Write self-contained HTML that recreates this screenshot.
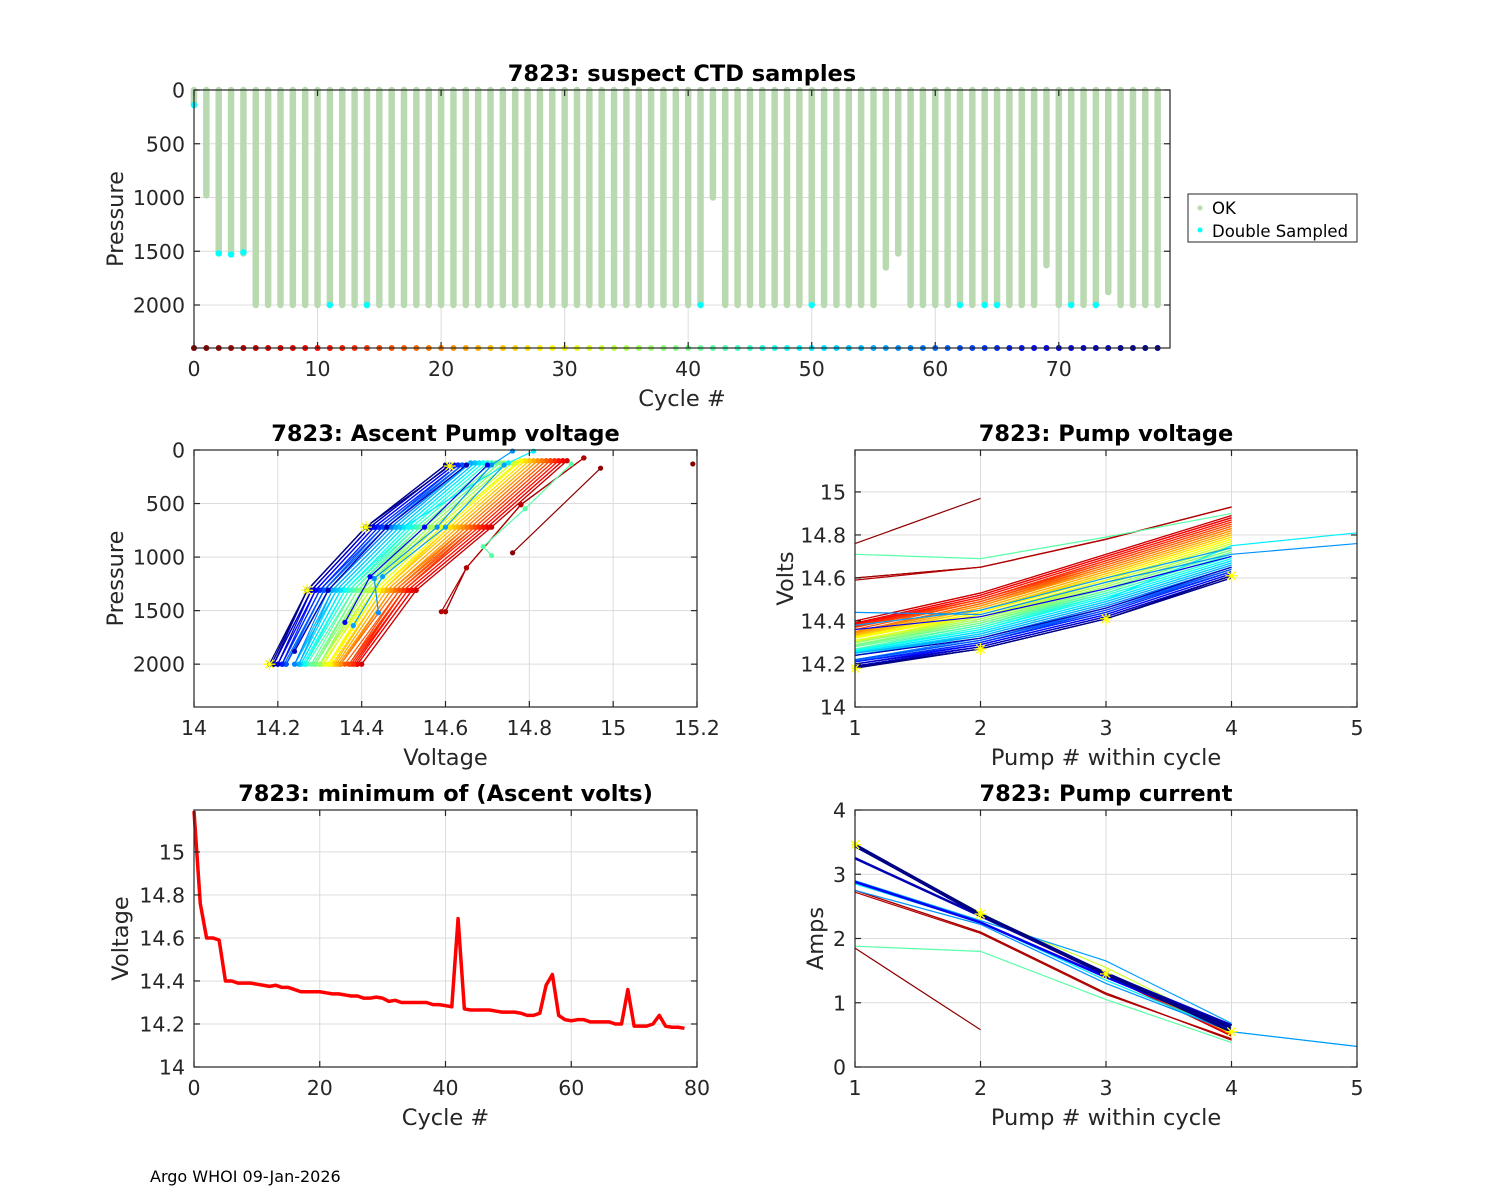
<!DOCTYPE html>
<html><head><meta charset="utf-8"><title>7823 pump diagnostics</title>
<style>
html,body{margin:0;padding:0;background:#fff;}
svg{display:block;font-family:"DejaVu Sans","Liberation Sans",sans-serif;}
</style></head>
<body>
<svg id="fig" width="1500" height="1200" viewBox="0 0 1500 1200" xmlns="http://www.w3.org/2000/svg">
<rect width="1500" height="1200" fill="#fff"/>
<text x="150" y="1182" font-size="16" fill="#000">Argo WHOI 09-Jan-2026</text>
<g>
<rect x="1188" y="194" width="169" height="48" fill="#fff" stroke="#262626" stroke-width="1"/>
<circle cx="1200" cy="208" r="2.5" fill="#b9dab0"/>
<text x="1212" y="214" font-size="16.5" fill="#000">OK</text>
<circle cx="1200" cy="230" r="2.5" fill="#00ffff"/>
<text x="1212" y="237" font-size="16.5" fill="#000">Double Sampled</text>
</g>
</svg>
<script>
// ---------- data ----------
const cycles = [];
for (let c = 0; c <= 78; c++) cycles.push(c);

const profileDepth = [140,980,1520,1520,1520,2000,2000,2000,2000,2000,
 2000,2000,2000,2000,2000,2000,2000,2000,2000,2000,
 2000,2000,2000,2000,2000,2000,2000,2000,2000,2000,
 2000,2000,2000,2000,2000,2000,2000,2000,2000,2000,
 2000,2000,1000,2000,2000,2000,2000,2000,2000,2000,
 2000,2000,2000,2000,2000,2000,1650,1520,2000,2000,
 2000,2000,2000,2000,2000,2000,2000,2000,2000,1630,
 2000,2000,2000,2000,1880,2000,2000,2000,2000];
const doubleCycles = [0,2,3,4,11,14,41,50,62,64,65,71,73];
const doublePres = [140,1520,1530,1510,2000,2000,2000,2000,2000,2000,2000,2000,2000];

const v1 = [15.19,14.76,14.60,14.60,14.59,14.40,14.40,14.39,14.39,14.39,
 14.385,14.38,14.375,14.38,14.37,14.37,14.36,14.35,14.35,14.35,
 14.35,14.345,14.34,14.34,14.335,14.33,14.33,14.32,14.32,14.325,
 14.32,14.305,14.31,14.30,14.30,14.30,14.30,14.30,14.29,14.29,
 14.285,14.28,14.71,14.27,14.265,14.265,14.265,14.265,14.26,14.255,
 14.255,14.255,14.25,14.24,14.24,14.25,14.38,14.44,14.24,14.22,
 14.215,14.22,14.22,14.21,14.21,14.21,14.21,14.20,14.20,14.36,
 14.19,14.19,14.19,14.20,14.24,14.19,14.185,14.185,14.18];
const v2 = [null,14.97,14.65,14.65,14.65,14.53,14.53,14.52,14.52,14.52,
 14.51,14.51,14.50,14.50,14.50,14.49,14.49,14.48,14.48,14.47,
 14.47,14.47,14.46,14.46,14.45,14.45,14.45,14.44,14.44,14.44,
 14.43,14.43,14.42,14.42,14.42,14.41,14.41,14.40,14.40,14.39,
 14.39,14.38,14.69,14.38,14.37,14.37,14.36,14.36,14.36,14.35,
 14.35,14.35,14.34,14.34,14.33,14.33,14.45,14.43,14.32,14.32,
 14.31,14.31,14.31,14.30,14.30,14.30,14.29,14.29,14.29,14.42,
 14.28,14.28,14.28,14.28,14.32,14.27,14.27,14.27,14.27];
const v3 = [null,null,14.78,14.78,14.78,14.71,14.71,14.70,14.70,14.70,
 14.69,14.69,14.68,14.68,14.67,14.67,14.66,14.66,14.65,14.65,
 14.64,14.64,14.63,14.63,14.62,14.62,14.61,14.61,14.60,14.60,
 14.59,14.59,14.58,14.58,14.57,14.57,14.56,14.56,14.55,14.55,
 14.54,14.54,14.79,14.53,14.53,14.52,14.52,14.51,14.51,14.50,
 14.50,14.50,14.49,14.49,14.48,14.48,14.60,14.58,14.47,14.47,
 14.46,14.46,14.45,14.45,14.44,14.44,14.43,14.43,14.43,14.55,
 14.42,14.42,14.42,14.42,14.46,14.41,14.41,14.41,14.41];
const v4 = [null,null,14.93,14.93,14.93,14.89,14.89,14.88,14.88,14.88,
 14.87,14.87,14.86,14.86,14.85,14.85,14.84,14.84,14.83,14.83,
 14.82,14.82,14.81,14.81,14.80,14.80,14.79,14.79,14.78,14.78,
 14.77,14.77,14.76,14.76,14.75,14.75,14.74,14.74,14.73,14.73,
 14.72,14.72,14.90,14.71,14.71,14.70,14.70,14.69,14.69,14.68,
 14.75,14.68,14.67,14.67,14.66,14.66,14.74,14.71,14.65,14.65,
 14.64,14.64,14.64,14.63,14.63,14.63,14.62,14.62,14.62,14.70,
 14.61,14.61,14.61,14.61,14.65,14.60,14.60,14.60,14.61];
const v5 = [null,null,null,null,null,null,null,null,null,null,
 null,null,null,null,null,null,null,null,null,null,
 null,null,null,null,null,null,null,null,null,null,
 null,null,null,null,null,null,null,null,null,null,
 null,null,null,null,null,null,null,null,null,null,
 14.81,null,null,null,null,null,null,14.76,null,null,
 null,null,null,null,null,null,null,null,null,null,
 null,null,null,null,null,null,null,null,null];

const p1 = [130,960,1510,1510,1510,2000,2000,2000,2000,2000,
 2000,2000,2000,2000,2000,2000,2000,2000,2000,2000,
 2000,2000,2000,2000,2000,2000,2000,2000,2000,2000,
 2000,2000,2000,2000,2000,2000,2000,2000,2000,2000,
 2000,2000,986,2000,2000,2000,2000,2000,2000,2000,
 2000,2000,2000,2000,2000,2000,1640,1520,2000,2000,
 2000,2000,2000,2000,2000,2000,2000,2000,2000,1610,
 2000,2000,2000,2000,1880,2000,2000,2000,2000];
const p2 = [null,170,1100,1100,1100,1310,1310,1310,1310,1310,
 1310,1310,1310,1310,1310,1310,1310,1310,1310,1310,
 1310,1310,1310,1310,1310,1310,1310,1310,1310,1310,
 1310,1310,1310,1310,1310,1310,1310,1310,1310,1310,
 1310,1310,902,1310,1310,1310,1310,1310,1310,1310,
 1310,1310,1310,1310,1310,1310,1183,1200,1310,1310,
 1310,1310,1310,1310,1310,1310,1310,1310,1310,1183,
 1310,1310,1310,1310,1310,1310,1310,1310,1310];
const p3 = [null,null,510,510,510,720,720,720,720,720,
 720,720,720,720,720,720,720,720,720,720,
 720,720,720,720,720,720,720,720,720,720,
 720,720,720,720,720,720,720,720,720,720,
 720,720,548,720,720,720,720,720,720,720,
 720,720,720,720,720,720,720,720,720,720,
 720,720,720,720,720,720,720,720,720,720,
 720,720,720,720,720,720,720,720,720];
const p4 = [null,null,74,74,74,100,100,100,100,100,
 100,100,100,100,100,100,100,100,100,100,
 100,100,100,100,100,100,100,100,100,100,
 120,120,120,120,120,120,120,120,120,120,
 120,120,130,120,120,120,120,120,120,120,
 120,120,120,120,120,120,140,140,140,140,
 140,140,140,140,140,140,140,140,140,140,
 140,140,140,140,140,140,140,140,150];
const p5 = [null,null,null,null,null,null,null,null,null,null,
 null,null,null,null,null,null,null,null,null,null,
 null,null,null,null,null,null,null,null,null,null,
 null,null,null,null,null,null,null,null,null,null,
 null,null,null,null,null,null,null,null,null,null,
 10,null,null,null,null,null,null,10,null,null,
 null,null,null,null,null,null,null,null,null,null,
 null,null,null,null,null,null,null,null,null];

const i1 = [null,1.85,2.75,2.75,2.72,3.45,3.44,3.46,3.45,3.44,
 3.45,3.46,3.45,3.44,3.45,3.46,3.45,3.44,3.45,3.46,
 3.45,3.44,3.45,3.46,3.45,3.44,3.45,3.46,3.45,3.44,
 3.45,3.46,3.45,3.44,3.45,3.46,3.45,3.44,3.45,3.46,
 3.45,3.44,1.88,3.45,3.46,3.45,3.44,3.45,3.46,3.45,
 2.85,3.44,3.45,3.46,3.45,3.44,2.90,2.75,3.45,3.46,
 3.45,3.44,3.45,3.46,3.45,3.44,3.45,3.46,3.45,2.88,
 3.45,3.44,3.45,3.46,3.25,3.45,3.44,3.45,3.46];
const i2 = [null,0.58,2.10,2.10,2.08,2.37,2.36,2.38,2.37,2.35,
 2.37,2.38,2.36,2.37,2.35,2.38,2.37,2.36,2.37,2.38,
 2.36,2.37,2.35,2.38,2.37,2.36,2.37,2.38,2.36,2.37,
 2.35,2.38,2.37,2.36,2.37,2.40,2.36,2.37,2.35,2.38,
 2.37,2.36,1.80,2.37,2.38,2.36,2.37,2.35,2.38,2.37,
 2.25,2.37,2.38,2.36,2.37,2.35,2.28,2.22,2.37,2.38,
 2.36,2.37,2.35,2.38,2.37,2.36,2.37,2.38,2.36,2.25,
 2.37,2.38,2.36,2.37,2.35,2.38,2.37,2.36,2.38];
const i3 = [null,null,1.15,1.15,1.13,1.42,1.43,1.44,1.45,1.42,
 1.44,1.45,1.43,1.46,1.44,1.45,1.43,1.44,1.46,1.45,
 1.44,1.43,1.45,1.44,1.46,1.45,1.44,1.43,1.45,1.44,
 1.46,1.45,1.44,1.55,1.45,1.44,1.46,1.45,1.44,1.43,
 1.45,1.44,1.05,1.45,1.46,1.44,1.45,1.43,1.44,1.46,
 1.35,1.45,1.44,1.43,1.45,1.44,1.65,1.30,1.45,1.46,
 1.44,1.45,1.43,1.44,1.46,1.45,1.44,1.43,1.45,1.40,
 1.44,1.46,1.45,1.44,1.45,1.43,1.44,1.46,1.45];
const i4 = [null,null,0.42,0.42,0.44,0.48,0.50,0.52,0.49,0.51,
 0.53,0.50,0.52,0.55,0.53,0.51,0.54,0.52,0.55,0.53,
 0.56,0.54,0.52,0.55,0.57,0.53,0.56,0.54,0.58,0.55,
 0.57,0.56,0.54,0.58,0.56,0.59,0.57,0.55,0.58,0.60,
 0.57,0.59,0.38,0.58,0.60,0.57,0.61,0.59,0.58,0.60,
 0.55,0.61,0.59,0.62,0.60,0.58,0.68,0.55,0.61,0.63,
 0.60,0.62,0.64,0.61,0.63,0.60,0.62,0.65,0.63,0.60,
 0.64,0.62,0.65,0.63,0.61,0.64,0.62,0.60,0.55];
const i5 = [null,null,null,null,null,null,null,null,null,null,
 null,null,null,null,null,null,null,null,null,null,
 null,null,null,null,null,null,null,null,null,null,
 null,null,null,null,null,null,null,null,null,null,
 null,null,null,null,null,null,null,null,null,null,
 0.32,null,null,null,null,null,null,0.32,null,null,
 null,null,null,null,null,null,null,null,null,null,
 null,null,null,null,null,null,null,null,null];

const pressTicks = [0,500,1000,1500,2000];
const cycleTicksTop = [0,10,20,30,40,50,60,70];
const voltTicksX = [14,14.2,14.4,14.6,14.8,15,15.2];
const voltTicksXLabels = ["14","14.2","14.4","14.6","14.8","15","15.2"];
const voltTicksY = [14,14.2,14.4,14.6,14.8,15];
const voltTicksYLabels = ["14","14.2","14.4","14.6","14.8","15"];
const pumpTicks = [1,2,3,4,5];
const cycleTicksMin = [0,20,40,60,80];
const ampTicks = [0,1,2,3,4];

// ---------- helpers ----------
const NS = "http://www.w3.org/2000/svg";
const svg = document.getElementById("fig");
function mk(tag, attrs, parent) {
  const e = document.createElementNS(NS, tag);
  for (const k in attrs) e.setAttribute(k, attrs[k]);
  (parent || svg).appendChild(e);
  return e;
}
function jet(x) {
  const cl = v => Math.max(0, Math.min(1, v));
  const r = cl(1.5 - Math.abs(4 * x - 3)), g = cl(1.5 - Math.abs(4 * x - 2)), b = cl(1.5 - Math.abs(4 * x - 1));
  return "rgb(" + Math.round(r * 255) + "," + Math.round(g * 255) + "," + Math.round(b * 255) + ")";
}
function cycColor(c) { return jet(1 - c / 78); }

let clipId = 0;
function axes(o) {
  const g = mk("g", {});
  
  
  const X = v => o.L + (v - o.x0) / (o.x1 - o.x0) * (o.R - o.L);
  const Y = o.rev ? (v => o.T + (v - o.y0) / (o.y1 - o.y0) * (o.B - o.T))
                  : (v => o.B - (v - o.y0) / (o.y1 - o.y0) * (o.B - o.T));
  mk("rect", {x: o.L, y: o.T, width: o.R - o.L, height: o.B - o.T, fill: "#fff"}, g);
  const grid = mk("g", {stroke: "#dcdcdc", "stroke-width": 1}, g);
  o.xt.forEach(v => mk("line", {x1: X(v), x2: X(v), y1: o.T, y2: o.B}, grid));
  o.yt.forEach(v => mk("line", {x1: o.L, x2: o.R, y1: Y(v), y2: Y(v)}, grid));
  clipId++;
  const cp = mk("clipPath", {id: "cp" + clipId}, g);
  mk("rect", {x: o.L - 4, y: o.T - 4, width: o.R - o.L + 8, height: o.B - o.T + 8}, cp);
  const plot = mk("g", {"clip-path": "url(#cp" + clipId + ")"}, g);
  const over = mk("g", {}, g);
  mk("rect", {x: o.L, y: o.T, width: o.R - o.L, height: o.B - o.T, fill: "none", stroke: "#262626", "stroke-width": 1.2}, over);
  const tk = mk("g", {stroke: "#262626", "stroke-width": 1.2}, over);
  o.xt.forEach(v => { mk("line", {x1: X(v), x2: X(v), y1: o.B, y2: o.B - 6}, tk); mk("line", {x1: X(v), x2: X(v), y1: o.T, y2: o.T + 6}, tk); });
  o.yt.forEach(v => { mk("line", {x1: o.L, x2: o.L + 6, y1: Y(v), y2: Y(v)}, tk); mk("line", {x1: o.R, x2: o.R - 6, y1: Y(v), y2: Y(v)}, tk); });
  o.xt.forEach((v, i) => {
    const t = mk("text", {x: X(v), y: o.B + 28, "font-size": 20.5, "text-anchor": "middle", fill: "#262626"}, over);
    t.textContent = o.xl ? o.xl[i] : String(v);
    
    
  });
  o.yt.forEach((v, i) => {
    const t = mk("text", {x: o.L - 9, y: Y(v) + 7.5, "font-size": 20.5, "text-anchor": "end", fill: "#262626"}, over);
    t.textContent = o.yl ? o.yl[i] : String(v);
    
    
  });
  const tt = mk("text", {x: (o.L + o.R) / 2, y: o.T - 9, "font-size": 22.5, "font-weight": "bold", "text-anchor": "middle", fill: "#000"}, over);
  tt.textContent = o.title;
  
  
  const xlab = mk("text", {x: (o.L + o.R) / 2, y: o.B + 58, "font-size": 22.5, "text-anchor": "middle", fill: "#262626"}, over);
  xlab.textContent = o.xlabel;
  
  
  const yx = o.ylx, yy = (o.T + o.B) / 2;
  const ylab = mk("text", {x: yx, y: yy, "font-size": 22.5, "text-anchor": "middle", fill: "#262626", transform: "rotate(-90 " + yx + " " + yy + ")"}, over);
  ylab.textContent = o.ylabel;
  
  
  return {X, Y, plot};
}
function star(g, x, y) {
  const s = 6;
  const p = "M" + (x - s) + " " + y + "H" + (x + s) + "M" + x + " " + (y - s) + "V" + (y + s) +
    "M" + (x - s * .7) + " " + (y - s * .7) + "L" + (x + s * .7) + " " + (y + s * .7) +
    "M" + (x - s * .7) + " " + (y + s * .7) + "L" + (x + s * .7) + " " + (y - s * .7);
  const e = mk("path", {d: p, stroke: "#ffff00", "stroke-width": 1.3, fill: "none"}, g);
  
  
}

// ---------- top chart ----------
{
  const a = axes({name: "suspect-ctd-chart", L: 194, R: 1170, T: 90, B: 348, x0: 0, x1: 79, y0: 0, y1: 2400, rev: true,
    xt: cycleTicksTop, yt: pressTicks, title: "7823: suspect CTD samples", xlabel: "Cycle #", ylabel: "Pressure", ylx: 123});
  cycles.forEach((c, i) => {
    const b = mk("line", {x1: a.X(c), x2: a.X(c), y1: a.Y(0), y2: a.Y(profileDepth[i]), stroke: "#b9dab0", "stroke-width": 6.5, "stroke-linecap": "round"}, a.plot);
    
    
  });
  doubleCycles.forEach((c, i) => {
    const d = mk("circle", {cx: a.X(c), cy: a.Y(doublePres[i]), r: 3.2, fill: "#00ffff"}, a.plot);
    
    
  });
  cycles.forEach(c => {
    const d = mk("circle", {cx: a.X(c), cy: a.Y(2400), r: 3, fill: cycColor(c)}, a.plot);
    
    
  });
}

const vs = [v1, v2, v3, v4, v5];
const ps = [p1, p2, p3, p4, p5];
const is = [i1, i2, i3, i4, i5];

// ---------- ascent pump voltage ----------
{
  const a = axes({name: "ascent-pump-voltage-chart", L: 194, R: 697, T: 450, B: 707, x0: 14, x1: 15.2, y0: 0, y1: 2400, rev: true,
    xt: voltTicksX, xl: voltTicksXLabels, yt: pressTicks, title: "7823: Ascent Pump voltage", xlabel: "Voltage", ylabel: "Pressure", ylx: 123});
  cycles.forEach(c => {
    const pts = [];
    for (let k = 0; k < 5; k++) if (vs[k][c] != null && ps[k][c] != null) pts.push([a.X(vs[k][c]), a.Y(ps[k][c])]);
    const col = cycColor(c);
    if (pts.length > 1) {
      const l = mk("polyline", {points: pts.map(p => p.join(",")).join(" "), fill: "none", stroke: col, "stroke-width": 1.2}, a.plot);
      
      
    }
    pts.forEach(p => {
      const d = mk("circle", {cx: p[0], cy: p[1], r: 2.6, fill: col}, a.plot);
      
      
    });
  });
  for (let k = 0; k < 4; k++) star(a.plot, a.X(vs[k][78]), a.Y(ps[k][78]));
}

// ---------- pump voltage ----------
{
  const a = axes({name: "pump-voltage-chart", L: 855, R: 1357, T: 450, B: 707, x0: 1, x1: 5, y0: 14, y1: 15.195,
    xt: pumpTicks, yt: voltTicksY, yl: voltTicksYLabels, title: "7823: Pump voltage", xlabel: "Pump # within cycle", ylabel: "Volts", ylx: 793});
  cycles.forEach(c => {
    const pts = [];
    for (let k = 0; k < 5; k++) if (vs[k][c] != null) pts.push([a.X(k + 1), a.Y(vs[k][c])]);
    if (pts.length > 1) {
      const l = mk("polyline", {points: pts.map(p => p.join(",")).join(" "), fill: "none", stroke: cycColor(c), "stroke-width": 1.2}, a.plot);
      
      
    }
  });
  for (let k = 0; k < 4; k++) star(a.plot, a.X(k + 1), a.Y(vs[k][78]));
}

// ---------- minimum ascent volts ----------
{
  const a = axes({name: "min-ascent-volts-chart", L: 194, R: 697, T: 810, B: 1067, x0: 0, x1: 80, y0: 14, y1: 15.195,
    xt: cycleTicksMin, yt: voltTicksY, yl: voltTicksYLabels, title: "7823: minimum of (Ascent volts)", xlabel: "Cycle #", ylabel: "Voltage", ylx: 128});
  const pts = cycles.map(c => {
    let m = Infinity;
    for (let k = 0; k < 5; k++) if (vs[k][c] != null) m = Math.min(m, vs[k][c]);
    return [a.X(c), a.Y(m)];
  });
  const l = mk("polyline", {points: pts.map(p => p.join(",")).join(" "), fill: "none", stroke: "#ff0000", "stroke-width": 3.5, "stroke-linejoin": "round"}, a.plot);
  
  
}

// ---------- pump current ----------
{
  const a = axes({name: "pump-current-chart", L: 855, R: 1357, T: 810, B: 1067, x0: 1, x1: 5, y0: 0, y1: 4,
    xt: pumpTicks, yt: ampTicks, title: "7823: Pump current", xlabel: "Pump # within cycle", ylabel: "Amps", ylx: 823});
  cycles.forEach(c => {
    const pts = [];
    for (let k = 0; k < 5; k++) if (is[k][c] != null) pts.push([a.X(k + 1), a.Y(is[k][c])]);
    if (pts.length > 1) {
      const l = mk("polyline", {points: pts.map(p => p.join(",")).join(" "), fill: "none", stroke: cycColor(c), "stroke-width": c > 65 ? 2.5 : 1.2}, a.plot);
      
      
    }
  });
  for (let k = 0; k < 4; k++) star(a.plot, a.X(k + 1), a.Y(is[k][78]));
}
</script>
</body></html>
